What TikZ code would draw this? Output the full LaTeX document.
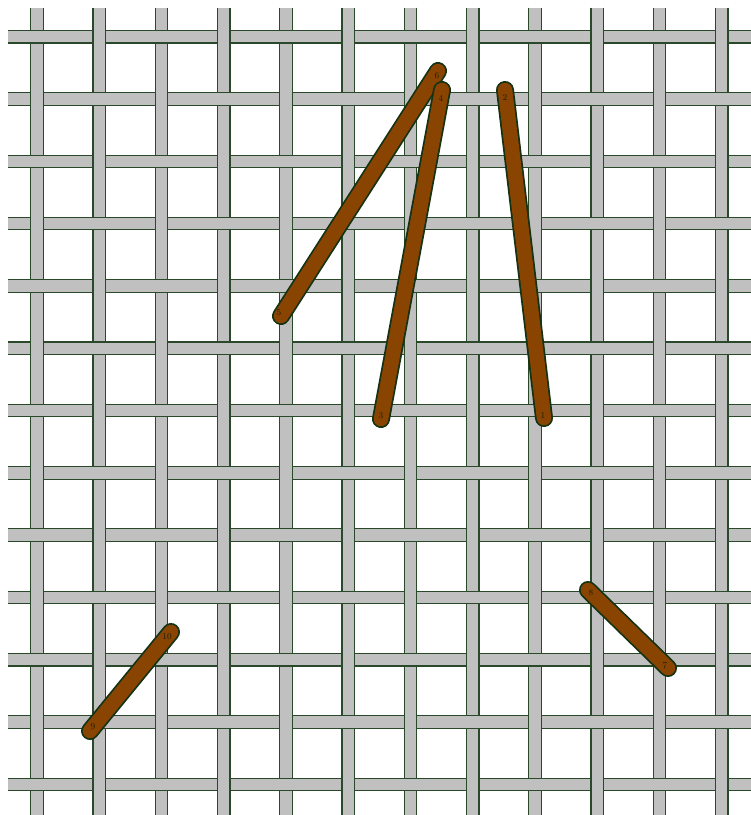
\documentclass[tikz,border=0pt]{standalone}
\definecolor{barfill}{HTML}{C0C0C0}
\definecolor{barline}{HTML}{2A482A}
\definecolor{stitchfill}{HTML}{884400}
\definecolor{stitchline}{HTML}{143214}
\definecolor{labcol}{HTML}{1E1E08}
\begin{document}
\begin{tikzpicture}[x=1pt,y=-1pt,
  barstroke/.style={barline, line width=1.1pt},
  stitchout/.style={stitchline, line width=18pt, line cap=round},
  stitchin/.style={stitchfill, line width=14.5pt, line cap=round},
  lab/.style={labcol, inner sep=0pt, font=\fontsize{9}{9}\selectfont}]
\useasboundingbox (0,0) rectangle (751,815);
\fill[white] (0,0) rectangle (751,815);
% horizontal threads
\foreach \j in {0,...,12}{
  \pgfmathsetmacro\yy{36.7+62.3*\j}
  \fill[barfill] (8,\yy-6.25) rectangle (751,\yy+6.25);
  \draw[barstroke] (8,\yy-6.25) -- (751,\yy-6.25) (8,\yy+6.25) -- (751,\yy+6.25);
}
% vertical threads
\foreach \i in {0,...,11}{
  \pgfmathsetmacro\xx{37+62.25*\i}
  \fill[barfill] (\xx-6.25,7.5) rectangle (\xx+6.25,815);
  \draw[barstroke] (\xx-6.25,7.5) -- (\xx-6.25,815) (\xx+6.25,7.5) -- (\xx+6.25,815);
}
% weave: horizontal over where i+j even
\foreach \i in {0,...,11}{
  \foreach \j in {0,...,12}{
    \pgfmathtruncatemacro\pr{mod(\i+\j,2)}
    \ifnum\pr=0
      \pgfmathsetmacro\xx{37+62.25*\i}
      \pgfmathsetmacro\yy{36.7+62.3*\j}
      \fill[barfill] (\xx-7.2,\yy-6.25) rectangle (\xx+7.2,\yy+6.25);
      \draw[barstroke] (\xx-7.5,\yy-6.25) -- (\xx+7.5,\yy-6.25) (\xx-7.5,\yy+6.25) -- (\xx+7.5,\yy+6.25);
    \fi
  }
}
% stitch ends
\coordinate (s1) at (544,418);
\coordinate (s2) at (505,90);
\coordinate (s3) at (381,419);
\coordinate (s4) at (442,90);
\coordinate (s5) at (281,316);
\coordinate (s6) at (438,71);
\coordinate (s7) at (668,668);
\coordinate (s8) at (588,590);
\coordinate (s9) at (90,731);
\coordinate (s10) at (171,632);
% stitches
\draw[stitchout] (s1) -- (s2); \draw[stitchin] (s1) -- (s2);
\draw[stitchout] (s5) -- (s6); \draw[stitchin] (s5) -- (s6);
\draw[stitchout] (s3) -- (s4); \draw[stitchin] (s3) -- (s4);
\draw[stitchout] (s7) -- (s8); \draw[stitchin] (s7) -- (s8);
\draw[stitchout] (s9) -- (s10); \draw[stitchin] (s9) -- (s10);
% labels
\node[lab] (l1) at (543,415) {1};
\node[lab] (l2) at (505,97) {2};
\node[lab] (l3) at (381,416) {3};
\node[lab] (l4) at (441,98) {4};
\node[lab] (l5) at (279,313) {5};
\node[lab] (l6) at (437,76) {6};
\node[lab] (l7) at (665,666) {7};
\node[lab] (l8) at (591,593) {8};
\node[lab] (l9) at (93,727) {9};
\node[lab] (l10) at (167,637) {10};
\end{tikzpicture}
\end{document}
